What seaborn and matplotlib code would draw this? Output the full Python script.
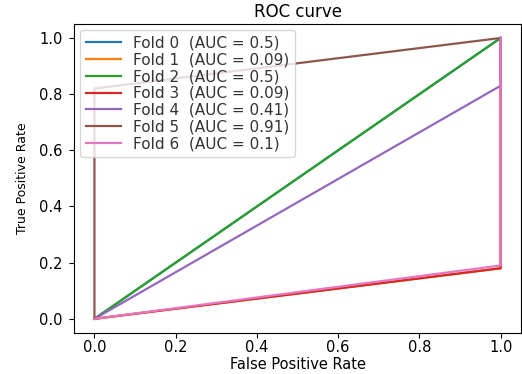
import pandas as pd
import matplotlib
matplotlib.use("Agg")
import matplotlib.pyplot as plt
import seaborn as sns

# ROC points per fold
folds = [0, 1, 2, 3, 4, 5, 6]
fpr = [
    [0.0, 1.0],
    [0.0, 1.0, 1.0],
    [0.0, 1.0],
    [0.0, 1.0, 1.0],
    [0.0, 1.0, 1.0],
    [0.0, 0.0, 1.0],
    [0.0, 1.0, 1.0],
]
tpr = [
    [0.0, 1.0],
    [0.0, 0.18, 1.0],
    [0.0, 1.0],
    [0.0, 0.18, 1.0],
    [0.0, 0.83, 1.0],
    [0.0, 0.82, 1.0],
    [0.0, 0.19, 1.0],
]
auc = ["0.5", "0.09", "0.5", "0.09", "0.41", "0.91", "0.1"]

rows = []
for f, xs, ys, a in zip(folds, fpr, tpr, auc):
    label = "Fold %d  (AUC = %s)" % (f, a)
    for i, (x, y) in enumerate(zip(xs, ys)):
        rows.append({"label": label, "order": i, "fpr": x, "tpr": y})
df = pd.DataFrame(rows)

fig, ax = plt.subplots(figsize=(5.22, 3.74), dpi=100)
sns.lineplot(data=df, x="fpr", y="tpr", hue="label", palette="tab10",
             sort=False, estimator=None, linewidth=1.6, ax=ax)

ax.set_title("ROC curve", fontsize=12, pad=5)
ax.set_xlabel("False Positive Rate", fontsize=10.5, labelpad=1)
ax.set_ylabel("True Positive Rate", fontsize=9, labelpad=7)
ax.tick_params(labelsize=10.5, pad=2)
ax.tick_params(axis="y", pad=5)
leg = ax.legend(loc="upper left", fontsize=11, labelspacing=0.12,
                handlelength=2.3, handletextpad=0.8, borderaxespad=0.4,
                borderpad=0.35)
for t in leg.get_texts():
    t.set_color("#333333")

plt.subplots_adjust(left=0.142, right=0.998, top=0.936, bottom=0.11)
plt.savefig("out.png")
